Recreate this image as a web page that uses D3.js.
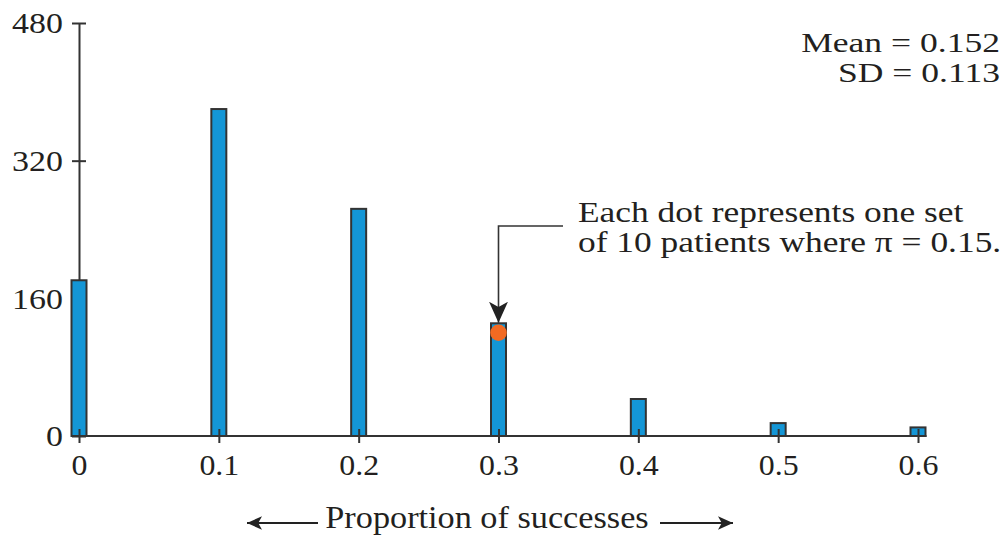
<!DOCTYPE html>
<html><head><meta charset="utf-8">
<script src="https://cdn.jsdelivr.net/npm/d3@7"></script>
<style>body{margin:0;background:#fff}svg{display:block}text{font-family:"Liberation Serif","Times New Roman",serif;fill:#231f20}</style>
</head><body>
<svg id="c" width="1004" height="539"></svg>
<script>
const categories = [0, 0.1, 0.2, 0.3, 0.4, 0.5, 0.6];
const counts = [181, 380, 264, 131, 43, 15, 10];
const yTicks = [0, 160, 320, 480];
const xTickLabels = ["0", "0.1", "0.2", "0.3", "0.4", "0.5", "0.6"];
const statsLines = ["Mean = 0.152", "SD = 0.113"];
const noteLines = ["Each dot represents one set", "of 10 patients where \u03C0 = 0.15."];
const highlight = {x: 0.3, y: 120};
const xTitle = "Proportion of successes";

const svg = d3.select("#c");
const x = d3.scaleLinear().domain([0, 0.6]).range([79, 918]);
const y = d3.scaleLinear().domain([0, 480]).range([436, 23]);
const barW = 15;
const ink = "#333";

function stretch(sel, f) {
  sel.each(function () {
    const len = this.getComputedTextLength();
    d3.select(this).attr("textLength", len * f).attr("lengthAdjust", "spacingAndGlyphs");
  });
}

// y axis
const yAxis = svg.append("g").attr("transform", `translate(${x(0)},0)`)
  .call(d3.axisLeft(y).tickValues(yTicks).tickSize(0).tickPadding(16));
yAxis.select(".domain").attr("stroke", ink).attr("stroke-width", 2);
yAxis.selectAll("text").attr("font-size", 29).attr("font-family", "Liberation Serif").attr("fill", "#231f20").attr("dy", "0.34em");
stretch(yAxis.selectAll("text"), 1.17);
yAxis.selectAll(".tick").append("line").attr("x1", -7).attr("x2", 7).attr("stroke", ink).attr("stroke-width", 2);

// bars
svg.append("g").selectAll("rect").data(categories).join("rect")
  .attr("x", (d) => x(d) - barW / 2)
  .attr("y", (d, i) => y(counts[i]))
  .attr("width", barW)
  .attr("height", (d, i) => y(0) - y(counts[i]))
  .attr("fill", "#1496d6").attr("stroke", ink).attr("stroke-width", 2);

// x axis
const xAxis = svg.append("g").attr("transform", `translate(0,${y(0)})`)
  .call(d3.axisBottom(x).tickValues(categories).tickFormat((d, i) => xTickLabels[i]).tickSize(7).tickPadding(11));
xAxis.select(".domain").attr("d", `M${x(0)},0H${x(0.6) + barW / 2 + 1}`).attr("stroke", ink).attr("stroke-width", 2);
xAxis.selectAll(".tick line").attr("y1", -7).attr("stroke", ink).attr("stroke-width", 2);
xAxis.selectAll("text").attr("font-size", 29).attr("font-family", "Liberation Serif").attr("fill", "#231f20").attr("dy", "0.72em");
stretch(xAxis.selectAll("text"), 1.1);

// highlighted dot
svg.append("circle").attr("cx", x(highlight.x)).attr("cy", y(highlight.y)).attr("r", 8.3).attr("fill", "#f26a22");

// annotation arrow
const defs = svg.append("defs");
defs.append("marker").attr("id", "ah").attr("viewBox", "0 0 20 20").attr("refX", 20).attr("refY", 10)
  .attr("markerWidth", 21).attr("markerHeight", 21).attr("markerUnits", "userSpaceOnUse").attr("orient", "auto")
  .append("path").attr("d", "M0,1 L20,10 L0,19 L5,10 Z").attr("fill", "#222");
const ax = x(highlight.x);
svg.append("path").attr("d", `M563,226H${ax}V${y(highlight.y) - 10}`)
  .attr("fill", "none").attr("stroke", ink).attr("stroke-width", 1.6).attr("marker-end", "url(#ah)");

// notes
const notes = svg.append("g").selectAll("text").data(noteLines).join("text")
  .attr("x", 578).attr("y", (d, i) => 222 + i * 30).attr("font-size", 30).text((d) => d);
stretch(notes, 1.18);

const stats = svg.append("g").selectAll("text").data(statsLines).join("text")
  .attr("x", 1000).attr("y", (d, i) => 52 + i * 30).attr("text-anchor", "end").attr("font-size", 28).text((d) => d);
stretch(stats, 1.27);

// x title with arrows
const title = svg.append("text").attr("x", 487).attr("y", 528).attr("text-anchor", "middle").attr("font-size", 32).text(xTitle);
stretch(title, 1.07);
defs.append("marker").attr("id", "ah2").attr("viewBox", "0 0 20 20").attr("refX", 20).attr("refY", 10)
  .attr("markerWidth", 18).attr("markerHeight", 15).attr("markerUnits", "userSpaceOnUse").attr("orient", "auto")
  .append("path").attr("d", "M0,1 L20,10 L0,19 L5,10 Z").attr("fill", "#222");
svg.append("line").attr("x1", 318).attr("x2", 247).attr("y1", 523).attr("y2", 523).attr("stroke", "#222").attr("stroke-width", 2).attr("marker-end", "url(#ah2)");
svg.append("line").attr("x1", 660).attr("x2", 733).attr("y1", 523).attr("y2", 523).attr("stroke", "#222").attr("stroke-width", 2).attr("marker-end", "url(#ah2)");
</script>
</body></html>
